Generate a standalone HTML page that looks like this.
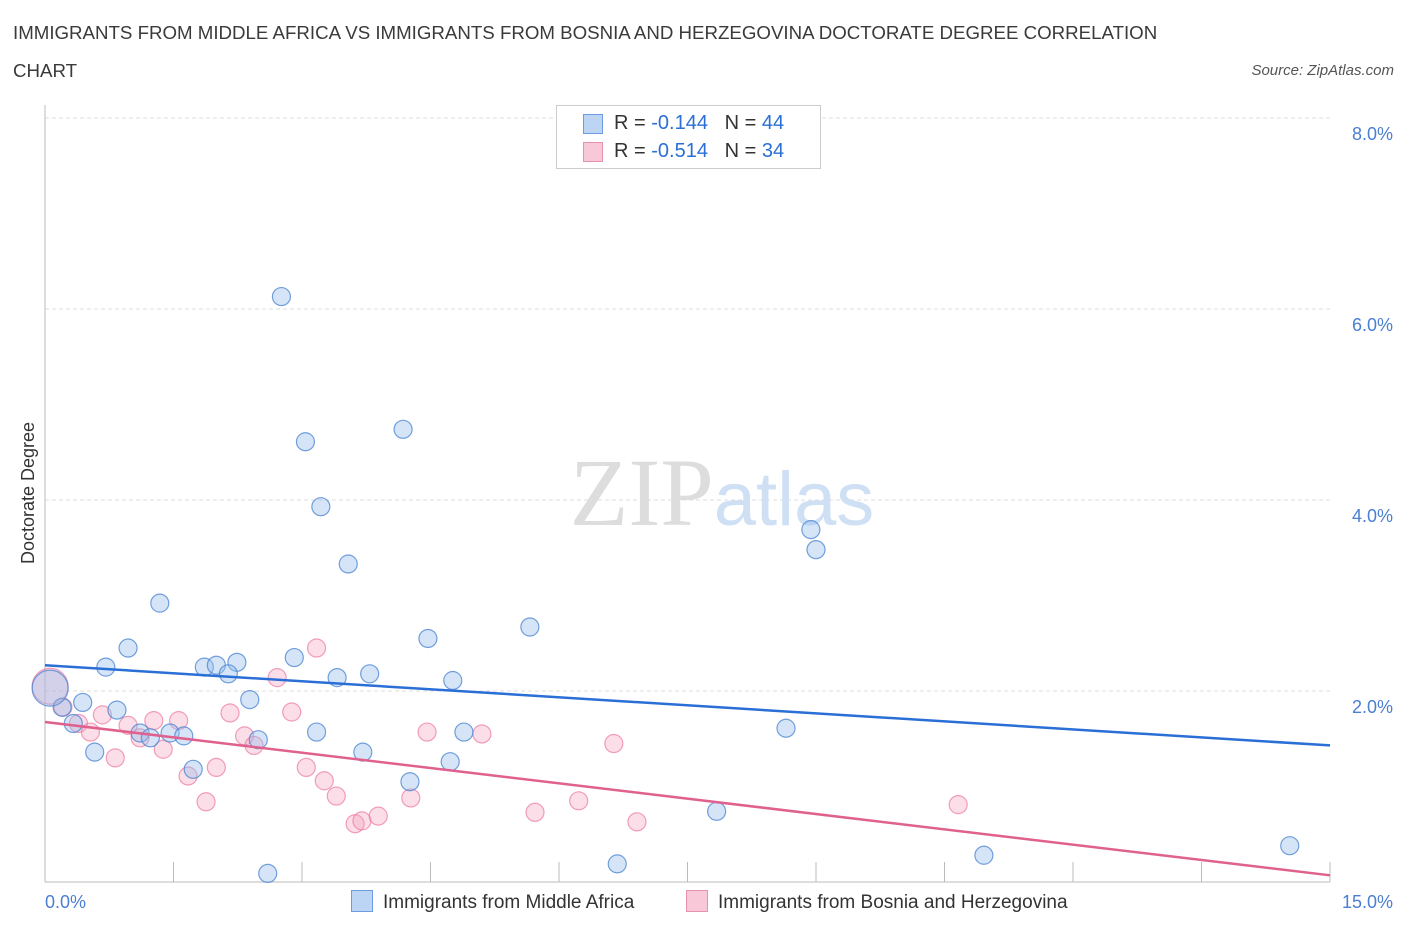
<!DOCTYPE html>
<html><head><meta charset="utf-8"><style>
body{margin:0;background:#fff;font-family:"Liberation Sans",sans-serif;}
#wrap{position:relative;width:1406px;height:930px;overflow:hidden}
.t{position:absolute;color:#333}
</style></head><body><div id="wrap">
<div class="t" style="left:13px;top:14px;font-size:18.7px;line-height:38px;color:#3a3a3a">IMMIGRANTS FROM MIDDLE AFRICA VS IMMIGRANTS FROM BOSNIA AND HERZEGOVINA DOCTORATE DEGREE CORRELATION<br>CHART</div>
<div class="t" style="right:12px;top:62px;font-size:15px;font-style:italic;color:#555">Source: ZipAtlas.com</div>
<svg id="svg" width="1406" height="930" style="position:absolute;left:0;top:0"></svg>
</div>
<script>
const xTicks=[0,15];
const yTicks=[2,4,6,8];
const blueX=[2.76,3.04,4.18,3.22,3.54,1.34,0.97,4.47,5.66,8.94,9.0,0.71,1.86,2.0,2.24,2.14,2.91,3.41,3.79,4.76,2.39,0.44,0.84,0.2,0.33,1.11,1.23,1.46,1.62,2.49,3.17,3.71,0.58,1.73,4.26,4.73,4.89,8.65,7.84,6.68,10.96,14.53,2.6,0.06];
const blueY=[6.13,4.61,4.74,3.93,3.33,2.92,2.45,2.55,2.67,3.69,3.48,2.25,2.25,2.27,2.3,2.18,2.35,2.14,2.18,2.11,1.91,1.88,1.8,1.83,1.66,1.56,1.51,1.56,1.53,1.49,1.57,1.36,1.36,1.18,1.05,1.26,1.57,1.61,0.74,0.19,0.28,0.38,0.09,2.03];
const pinkX=[0.06,0.21,0.39,0.53,0.67,0.82,0.97,1.11,1.27,1.38,1.56,1.67,1.88,2.0,2.16,2.33,2.44,2.71,2.88,3.05,3.17,3.26,3.4,3.62,3.7,3.89,4.27,4.46,5.1,5.72,6.23,6.64,6.91,10.66];
const pinkY=[2.05,1.83,1.66,1.57,1.75,1.3,1.64,1.51,1.69,1.39,1.69,1.11,0.84,1.2,1.77,1.53,1.43,2.14,1.78,1.2,2.45,1.06,0.9,0.61,0.64,0.69,0.88,1.57,1.55,0.73,0.85,1.45,0.63,0.81];
const blueSize=[9,9,9,9,9,9,9,9,9,9,9,9,9,9,9,9,9,9,9,9,9,9,9,9,9,9,9,9,9,9,9,9,9,9,9,9,9,9,9,9,9,9,9,18];
const blueLine=[2.27,1.43], pinkLine=[1.675,0.07];
const X=v=>45+v*(1285/15), Y=v=>882-v*95.5;
const svg=document.getElementById('svg'),NS='http://www.w3.org/2000/svg';
function mk(t,a){const e=document.createElementNS(NS,t);for(const k in a)e.setAttribute(k,a[k]);svg.appendChild(e);return e;}
yTicks.forEach(v=>{const l=mk('line',{x1:45,x2:1330,y1:Y(v),y2:Y(v),stroke:'#ddd','stroke-dasharray':'4,3'});


const t=mk('text',{x:1393,y:Y(v)+22,'text-anchor':'end','font-size':18,fill:'#4a7fd4','font-family':'Liberation Sans'});t.textContent=v.toFixed(1)+'%';

});
const ax=mk('line',{x1:45,x2:45,y1:105,y2:882,stroke:'#bbb'});


const bx=mk('line',{x1:45,x2:1330,y1:882,y2:882,stroke:'#bbb'});


for(let i=1;i<=10;i++){const l=mk('line',{x1:X(i*1.5),x2:X(i*1.5),y1:862,y2:882,stroke:'#bbb'});

}
xTicks.forEach((v,i)=>{const t=mk('text',{x:i?1393:45,y:908,'text-anchor':i?'end':'start','font-size':18,fill:'#4a7fd4','font-family':'Liberation Sans'});t.textContent=v.toFixed(1)+'%';

});
const wm=mk('text',{x:722,y:525,'text-anchor':'middle','font-size':96,'font-family':'Liberation Serif',fill:'#ddd'});wm.innerHTML='ZIP<tspan fill="#cfe0f5" font-family="Liberation Sans" font-size="76">atlas</tspan>';


const yl=mk('text',{x:34,y:493,transform:'rotate(-90 34 493)','text-anchor':'middle','font-size':18,fill:'#333','font-family':'Liberation Sans'});yl.textContent='Doctorate Degree';


pinkX.forEach((v,i)=>{const c=mk('circle',{cx:X(v),cy:Y(pinkY[i]),r:i==0?18:9,fill:'rgba(244,160,190,0.35)',stroke:'rgba(236,120,160,0.7)','stroke-width':1.2});

});
blueX.forEach((v,i)=>{const c=mk('circle',{cx:X(v),cy:Y(blueY[i]),r:blueSize[i],fill:'rgba(150,190,235,0.4)',stroke:'rgba(70,130,210,0.75)','stroke-width':1.2});

});
const l1=mk('line',{x1:X(0),x2:X(15),y1:Y(blueLine[0]),y2:Y(blueLine[1]),stroke:'#2a6fd6','stroke-width':2.5});


const l2=mk('line',{x1:X(0),x2:X(15),y1:Y(pinkLine[0]),y2:Y(pinkLine[1]),stroke:'#e0608e','stroke-width':2.5});


</script>
<div style="position:absolute;left:556px;top:105px;width:263px;height:62px;border:1px solid #ccc;background:#fff;font-size:20px;color:#333">
<div style="position:absolute;left:26px;top:8px;width:18px;height:18px;background:#bcd5f5;border:1px solid #6d9de0"></div>
<div style="position:absolute;left:57px;top:6px">R = <span style="color:#2a6fd6">-0.144</span> &nbsp; N = <span style="color:#2a6fd6">44</span></div>
<div style="position:absolute;left:26px;top:36px;width:18px;height:18px;background:#f8c8d8;border:1px solid #e890b0"></div>
<div style="position:absolute;left:57px;top:34px">R = <span style="color:#2a6fd6">-0.514</span> &nbsp; N = <span style="color:#2a6fd6">34</span></div>
</div>
<div style="position:absolute;left:351px;top:890px;font-size:19px;color:#333"><span style="display:inline-block;width:20px;height:20px;background:#bcd5f5;border:1px solid #6d9de0;vertical-align:-4px;margin-right:10px"></span>Immigrants from Middle Africa</div>
<div style="position:absolute;left:686px;top:890px;font-size:19px;color:#333"><span style="display:inline-block;width:20px;height:20px;background:#f8c8d8;border:1px solid #e890b0;vertical-align:-4px;margin-right:10px"></span>Immigrants from Bosnia and Herzegovina</div>
</body></html>
